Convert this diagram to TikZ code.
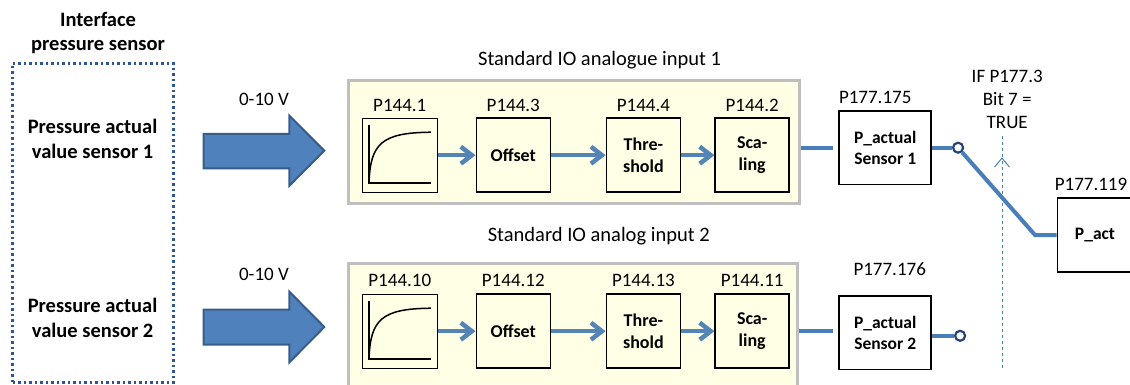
\documentclass[tikz,border=0pt]{standalone}
\usepackage{fontspec}
\setmainfont{Carlito}
\usetikzlibrary{positioning,calc,arrows.meta}

\definecolor{paneyellow}{RGB}{255,255,230}
\definecolor{panelgray}{RGB}{191,191,191}
\definecolor{linkblue}{RGB}{74,126,187}
\definecolor{flowblue}{RGB}{84,132,182}
\definecolor{dotblue}{RGB}{38,68,115}
\definecolor{ifaceblue}{RGB}{47,85,151}
\definecolor{arrowfill}{RGB}{79,129,189}
\definecolor{arrowedge}{RGB}{56,93,138}

\newcommand\lblfont{\fontsize{19}{22.8}\selectfont}
\newcommand\hdfont{\fontsize{20.5}{24.3}\selectfont\bfseries}
\newcommand\blkfont{\fontsize{18}{22.7}\selectfont\bfseries}
\newcommand\actfont{\fontsize{17.5}{20.6}\selectfont\bfseries}
\newcommand\ttlfont{\fontsize{20.5}{24}\selectfont}

\begin{document}
\begin{tikzpicture}[x=1pt, y=-1pt,
  block/.style = {draw, line width=1.6pt, fill=paneyellow, minimum width=74pt, minimum height=74pt, inner sep=0pt, align=center, font=\blkfont},
  curvebox/.style = {draw, line width=1pt, fill=paneyellow, minimum width=75pt, minimum height=74pt, inner sep=0pt},
  actbox/.style = {draw, line width=1.6pt, fill=white, minimum width=92pt, minimum height=73.5pt, inner sep=0pt, align=center, font=\actfont},
  panel/.style = {draw=panelgray, line width=3pt, fill=paneyellow, inner sep=0pt},
  plabel/.style = {inner sep=0pt, font=\lblfont, align=center},
  headtext/.style = {inner sep=0pt, font=\hdfont, align=center},
  flow/.style = {draw=flowblue, line width=4.5pt, -{Straight Barb[length=11pt, width=17pt]}},
  link/.style = {draw=linkblue, line width=4pt},
  swdot/.style = {draw=dotblue, line width=2.2pt, fill=white, circle, inner sep=0pt, minimum size=10pt},
  bigarrow/.style = {draw=arrowedge, line width=2pt, fill=arrowfill, line join=miter},
  dashline/.style = {draw=linkblue, line width=1pt, dashed},
  axisline/.style = {draw=black, line width=1.8pt}
]
\clip (0,0) rectangle (1130,385);

% interface side
\node[headtext] (ifhead) at (98,33.2) {Interface\\pressure sensor};
\node[draw=ifaceblue, line width=2.5pt, dash pattern=on 2.5pt off 3pt, minimum width=160.7pt, minimum height=319.4pt, inner sep=0pt] (iface) at (93,223) {};
\node[headtext] (sens1) at (92.6,138.8) {Pressure actual\\value sensor 1};
\node[headtext] (sens2) at (92.6,318) {Pressure actual\\value sensor 2};

% signal arrows
\draw[bigarrow] (203.6,134) -- (289.4,134) -- (289.4,115.7) -- (324.3,150.7) -- (289.4,185.7) -- (289.4,168.3) -- (203.6,168.3) -- cycle;
\draw[bigarrow] (203.6,309.5) -- (289.4,309.5) -- (289.4,291.7) -- (324.3,327) -- (289.4,362.3) -- (289.4,344.5) -- (203.6,344.5) -- cycle;
\node[plabel] (volt1) at (264,99) {0-10 V};
\node[plabel] (volt2) at (264,274) {0-10 V};

% input panels
\node[panel, minimum width=451.3pt, minimum height=122.7pt] (panel1) at (573.85,142.15) {};
\node[panel, minimum width=449.5pt, minimum height=136.8pt] (panel2) at (572.95,331.6) {};
\node[plabel, font=\ttlfont] (title1) at (599.6,60) {Standard IO analogue input 1};
\node[plabel, font=\ttlfont] (title2) at (598.8,235.7) {Standard IO analog input 2};

% row 1
\node[curvebox] (c1) at (399.8,155.2) {};
\node[block, right=37.7pt of c1] (off1) {Offset};
\node[block, right=54.5pt of off1] (thr1) {Thre-\\shold};
\node[block, right=33.2pt of thr1] (sca1) {Sca-\\ling};
\node[plabel, above=6pt of c1] (p1) {P144.1};
\node[plabel, above=6pt of off1] (p3) {P144.3};
\node[plabel, above=6pt of thr1] (p4) {P144.4};
\node[plabel, above=6pt of sca1] (p2) {P144.2};

% row 2
\node[curvebox, below=101pt of c1] (c2) {};
\node[block, right=37.7pt of c2] (off2) {Offset};
\node[block, right=54.5pt of off2] (thr2) {Thre-\\shold};
\node[block, right=33.2pt of thr2] (sca2) {Sca-\\ling};
\node[plabel, above=6.5pt of c2] (p10) {P144.10};
\node[plabel, above=6.5pt of off2] (p12) {P144.12};
\node[plabel, above=6.5pt of thr2] (p13) {P144.13};
\node[plabel, above=6.5pt of sca2] (p11) {P144.11};

% filter curves
\draw[axisline] ($(c1.center)+(-30.8,-30.2)$) -- ($(c1.center)+(-30.8,28.1)$) -- ($(c1.center)+(31.2,28.1)$);
\draw[axisline, line width=1.5pt] ($(c1.center)+(-30.8,28.1)$) .. controls ($(c1.center)+(-29.5,-12)$) and ($(c1.center)+(-18,-22.5)$) .. ($(c1.center)+(31.2,-23)$);
\draw[axisline] ($(c2.center)+(-30.8,-30.2)$) -- ($(c2.center)+(-30.8,28.1)$) -- ($(c2.center)+(31.2,28.1)$);
\draw[axisline, line width=1.5pt] ($(c2.center)+(-30.8,28.1)$) .. controls ($(c2.center)+(-29.5,-12)$) and ($(c2.center)+(-18,-22.5)$) .. ($(c2.center)+(31.2,-23)$);

\draw[flow] (c1) -- (off1);
\draw[flow] (off1) -- (thr1);
\draw[flow] (thr1) -- (sca1);
\draw[flow] (c2) -- (off2);
\draw[flow] (off2) -- (thr2);
\draw[flow] (thr2) -- (sca2);

% actual values and switch
\node[actbox] (act1) at (885.2,147.7) {P\_actual\\Sensor 1};
\node[actbox, below=110pt of act1] (act2) {P\_actual\\Sensor 2};
\node[plabel, above=6pt of act1, xshift=-10pt] (p175) {P177.175};
\node[plabel, above=19pt of act2, xshift=4.5pt] (p176) {P177.176};
\node[actbox, minimum width=75pt] (pact) at (1095,235) {P\_act};
\node[plabel, above=6.5pt of pact, xshift=-4pt] (p119) {P177.119};

\node[swdot, right=20pt of act1] (sw1) {};
\node[swdot, right=22pt of act2, yshift=-3pt] (sw2) {};
\coordinate (knee) at ([xshift=-21.7pt]pact.west);

\draw[link, shorten >=5pt] (panel1.east |- act1) -- (act1.west);
\draw[link, shorten >=5pt] (panel2.east |- sca2) -- (act2.west |- sca2);
\draw[link] (act1) -- (sw1);
\draw[link] (act2.east |- sw2) -- (sw2);
\draw[link] (sw1) -- (knee) -- (pact.west);

% condition
\node[plabel] (cond) at (1007.2,99.5) {IF P177.3\\Bit 7 =\\TRUE};
\coordinate (dtop) at (1002,135);
\coordinate (dtip) at (1002,157.3);
\coordinate (dbot) at (1002,368.3);
\draw[dashline, -{Straight Barb[length=9pt, width=15pt]}] (dbot) -- (dtip);
\draw[dashline] (dtip) -- (dtop);
\end{tikzpicture}
\end{document}
